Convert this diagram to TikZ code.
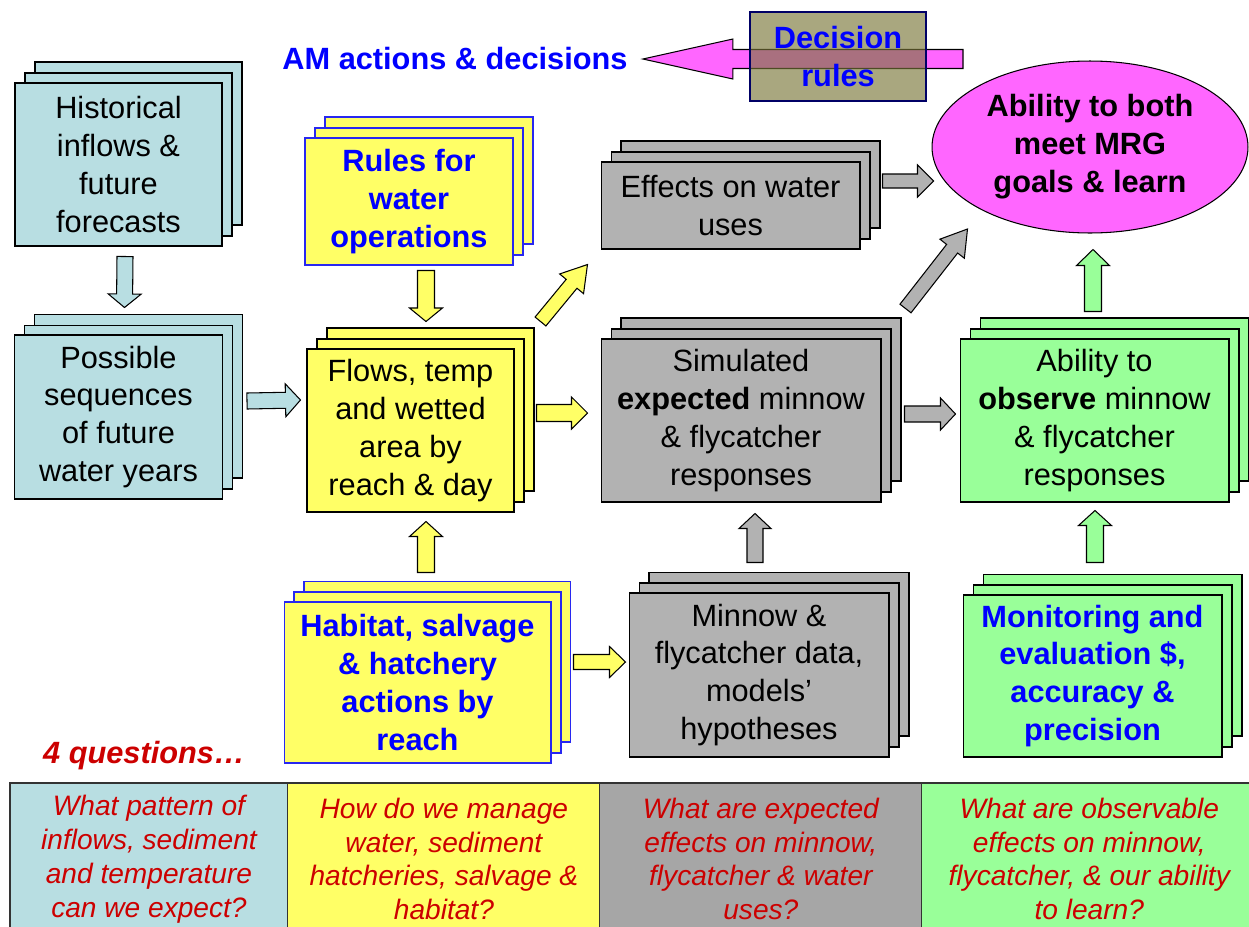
\documentclass[tikz,border=0pt]{standalone}
\usepackage{fontspec}
\setmainfont{Liberation Sans}
\usetikzlibrary{calc,positioning,shadows,shapes.geometric}

\definecolor{histblue}{HTML}{B8DEE2}
\definecolor{lemon}{HTML}{FFFF66}
\definecolor{stone}{HTML}{B2B2B2}
\definecolor{cellgray}{HTML}{A6A6A6}
\definecolor{mint}{HTML}{99FF99}
\definecolor{goalpink}{HTML}{FF66FF}
\definecolor{rulebrown}{RGB}{121,118,55}
\definecolor{qred}{HTML}{CC0000}
\definecolor{actblue}{HTML}{0000FF}
\definecolor{edgeblue}{HTML}{2828F0}

\newcommand{\boxfont}{\fontsize{17.5}{21.6}\selectfont}
\newcommand{\qfont}{\fontsize{16}{19.3}\selectfont\itshape}

\tikzstyle{sheet}=[
	rectangle,
	draw=black,
	line width=0.6pt,
	inner sep=0pt,
	align=center,
	font=\boxfont,
	copy shadow={shadow xshift=0.4cm, shadow yshift=0.42cm},
	copy shadow={shadow xshift=0.2cm, shadow yshift=0.2cm}
]
\tikzstyle{flowsheet}=[sheet, fill=histblue]
\tikzstyle{mgmtsheet}=[sheet, fill=lemon]
\tikzstyle{actsheet}=[mgmtsheet, draw=edgeblue, text=actblue, font=\boxfont\bfseries]
\tikzstyle{modelsheet}=[sheet, fill=stone]
\tikzstyle{monsheet}=[sheet, fill=mint]
\tikzstyle{question}=[
	rectangle,
	draw=black!80,
	line width=0.6pt,
	inner sep=0pt,
	outer sep=0pt,
	align=center,
	text=qred,
	font=\qfont,
	minimum height=3.04cm
]
\tikzstyle{blockarrow}=[
	draw=black,
	line width=0.6pt,
	line join=miter
]

% fat outlined arrow: style, tail, tip, half shaft, half head, head length
\newcommand{\fatarrow}[6]{%
	\coordinate (fa) at #2;
	\coordinate (fb) at #3;
	\coordinate (fc) at ($(fb)!#6!(fa)$);
	\filldraw[blockarrow, #1] ($(fa)!#4!90:(fb)$) -- ($(fc)!#4!90:(fb)$)
		-- ($(fc)!#5!90:(fb)$) -- (fb) -- ($(fc)!#5!-90:(fb)$)
		-- ($(fc)!#4!-90:(fb)$) -- ($(fa)!#4!-90:(fb)$) -- cycle;
}

\begin{document}
\begin{tikzpicture}[x=0.02cm, y=-0.02cm]
\useasboundingbox (0,0) rectangle (1249,927);

% decision rules -> AM actions
\node [font=\boxfont\bfseries, text=actblue, inner sep=0pt] (amtitle) at (455,59) {AM actions \& decisions};
\coordinate (rulestail) at (963,59);
\fatarrow{fill=goalpink}{(rulestail)}{($(amtitle.east)+(15,0)$)}{0.19cm}{0.4cm}{1.8cm}
\node [rectangle, draw=black!60!blue, line width=0.6pt, fill=rulebrown, fill opacity=0.64, text opacity=1,
	text=actblue, font=\boxfont\bfseries, align=center, inner sep=0pt,
	minimum width=3.52cm, minimum height=1.78cm] (decision) at (838,56.5) {Decision\\rules};

% inflow column
\node [flowsheet, minimum width=4.14cm, minimum height=3.26cm] (hist) at (118.5,164.5) {Historical\\inflows \&\\future\\forecasts};
\node [flowsheet, minimum width=4.16cm, minimum height=3.28cm] (poss) [below=1.76cm of hist] {Possible\\sequences\\of future\\water years};

% management column
\node [actsheet, minimum width=4.16cm, minimum height=2.54cm] (rules) at (409,201.5) {Rules for\\water\\operations};
\node [mgmtsheet, minimum width=4.14cm, minimum height=3.26cm] (flows) at (410.5,430.5) {Flows, temp\\and wetted\\area by\\reach \& day};
\node [actsheet, minimum width=5.34cm, minimum height=3.22cm] (habitat) at (417.5,682.5) {Habitat, salvage\\\& hatchery\\actions by\\reach};

% model column
\node [modelsheet, minimum width=5.18cm, minimum height=1.74cm] (effects) at (730.5,205.5) {Effects on water\\uses};
\node [modelsheet, minimum width=5.6cm, minimum height=3.26cm] (sim) at (741,420.5) {Simulated\\\textbf{expected} minnow\\\& flycatcher\\responses};
\node [modelsheet, minimum width=5.2cm, minimum height=3.28cm] (minnow) at (759,675) {Minnow \&\\flycatcher data,\\models’\\hypotheses};

% monitoring column
\node [ellipse, draw=black, line width=0.6pt, fill=goalpink, inner sep=0pt, align=center,
	font=\boxfont\bfseries, minimum width=6.32cm, minimum height=3.44cm] (goal) at (1090,147) {Ability to both\\meet MRG\\goals \& learn};
\node [monsheet, minimum width=5.38cm, minimum height=3.26cm] (observe) at (1094.5,420.5) {Ability to\\\textbf{observe} minnow\\\& flycatcher\\responses};
\node [monsheet, text=actblue, font=\boxfont\bfseries, minimum width=5.18cm, minimum height=3.24cm] (monit) at (1092.5,676) {Monitoring and\\evaluation \$,\\accuracy \&\\precision};

% block arrows
\fatarrow{fill=histblue}{($(hist.south)+(6.5,10)$)}{($(poss.north)+(6,-27)$)}{0.16cm}{0.33cm}{0.27cm}
\fatarrow{fill=histblue}{($(poss.east)+(24,-16)$)}{($(flows.west)+(-6,-30.5)$)}{0.16cm}{0.33cm}{0.3cm}
\fatarrow{fill=lemon}{($(rules.south)+(17,5)$)}{($(flows.north)+(15.5,-27)$)}{0.17cm}{0.33cm}{0.27cm}
\fatarrow{fill=lemon}{($(habitat.north)+(8.5,-29)$)}{($(flows.south)+(15.5,9)$)}{0.17cm}{0.33cm}{0.3cm}
\fatarrow{fill=lemon}{($(flows.east)+(22,-17.5)$)}{($(sim.west)+(-13,-7.5)$)}{0.17cm}{0.32cm}{0.32cm}
\fatarrow{fill=lemon}{($(flows.north east)+(26,-27)$)}{($(effects.south west)+(-13,15)$)}{0.14cm}{0.31cm}{0.5cm}
\fatarrow{fill=lemon}{($(habitat.east)+(22,-20.5)$)}{($(minnow.west)+(-3,-13)$)}{0.15cm}{0.31cm}{0.32cm}
\fatarrow{fill=stone}{($(minnow.north)+(-4,-30)$)}{($(sim.south)+(14,11)$)}{0.16cm}{0.32cm}{0.3cm}
\fatarrow{fill=stone}{($(sim.east)+(23,-6.5)$)}{($(observe.west)+(-4,-6.5)$)}{0.16cm}{0.32cm}{0.3cm}
\fatarrow{fill=stone}{($(sim.north east)+(24,-30)$)}{($(goal.west)+(36,82)$)}{0.14cm}{0.31cm}{0.5cm}
\fatarrow{fill=stone}{($(effects.east)+(22,-24.5)$)}{($(goal.west)+(2,34)$)}{0.14cm}{0.32cm}{0.32cm}
\fatarrow{fill=mint}{($(monit.north)+(2.5,-32)$)}{($(observe.south)+(0.5,8)$)}{0.17cm}{0.33cm}{0.3cm}
\fatarrow{fill=mint}{($(observe.north)+(-1.5,-27)$)}{($(goal.south)+(3,16)$)}{0.17cm}{0.33cm}{0.32cm}

% the four questions
\node [text=qred, font=\boxfont\bfseries\itshape, inner sep=0pt] (qlabel) at (144,756) {4 questions…};
\node [question, fill=histblue, minimum width=5.56cm, anchor=north west] (q1) at (10,783) {What pattern of\\inflows, sediment\\and temperature\\can we expect?};
\node [question, fill=lemon, minimum width=6.24cm] (q2) [right=0pt of q1] {How do we manage\\water, sediment\\hatcheries, salvage \&\\habitat?};
\node [question, fill=cellgray, minimum width=6.44cm] (q3) [right=0pt of q2] {What are expected\\effects on minnow,\\flycatcher \& water\\uses?};
\node [question, fill=mint, minimum width=6.7cm] (q4) [right=0pt of q3] {What are observable\\effects on minnow,\\flycatcher, \& our ability\\to learn?};
\end{tikzpicture}
\end{document}
